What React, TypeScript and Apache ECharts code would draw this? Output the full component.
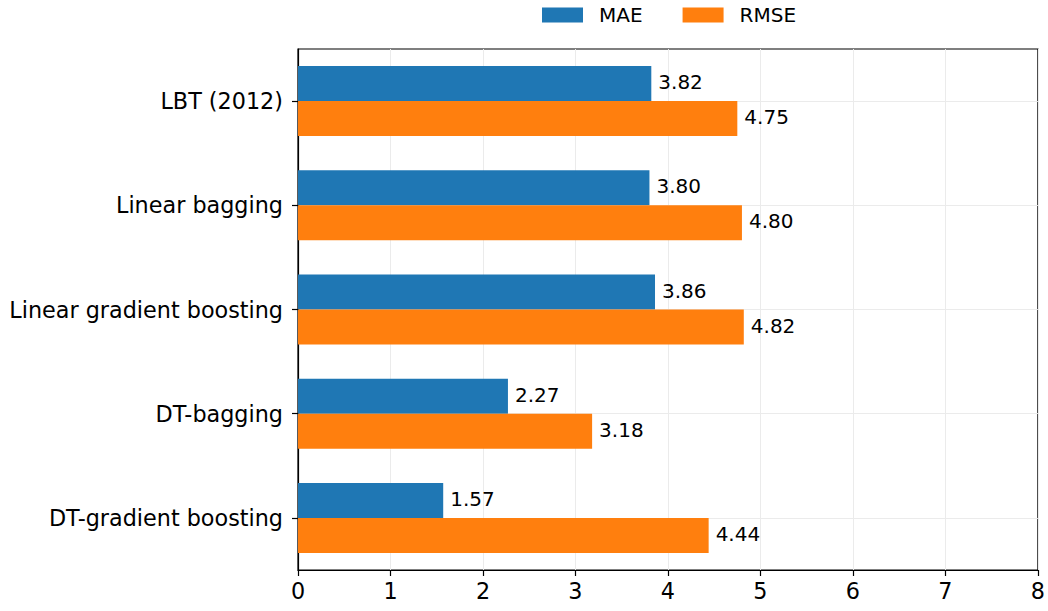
import React, { useEffect, useRef } from "react";
import * as echarts from "echarts";

const categories = [
  "LBT (2012)",
  "Linear bagging",
  "Linear gradient boosting",
  "DT-bagging",
  "DT-gradient boosting",
];
const maeValues = [3.82, 3.8, 3.86, 2.27, 1.57];
const rmseValues = [4.75, 4.8, 4.82, 3.18, 4.44];
const xTicks = { min: 0, max: 8, interval: 1 };

const FONT = "DejaVu Sans";

export default function App() {
  const ref = useRef<HTMLDivElement>(null);
  useEffect(() => {
    if (!ref.current) return;
    const chart = echarts.init(ref.current, null, { renderer: "svg" });
    const gridHelper = Array.from({ length: categories.length * 2 + 1 }, () => "");
    const labelCfg = {
      show: true,
      position: "right",
      distance: 7,
      offset: [0, -1.5],
      color: "#000",
      fontSize: 20,
      fontFamily: FONT,
      formatter: (p: any) => Number(p.value).toFixed(2),
    };
    chart.setOption({
      animation: false,
      textStyle: { fontFamily: FONT },
      legend: {
        left: 542,
        top: 5,
        padding: 0,
        itemWidth: 41,
        itemHeight: 15,
        itemGap: 40,
        icon: "rect",
        textStyle: { fontSize: 20, color: "#000", fontFamily: FONT, padding: [0, 0, 0, 11] },
        data: ["MAE", "RMSE"],
      },
      grid: {
        left: 298,
        right: 8.5,
        top: 49,
        bottom: 41,
        show: true,
        borderColor: "#000",
        borderWidth: 1.2,
        backgroundColor: "transparent",
      },
      xAxis: {
        type: "value",
        min: xTicks.min,
        max: xTicks.max,
        interval: xTicks.interval,
        axisLine: { show: true, lineStyle: { color: "#000", width: 1.2 } },
        axisTick: { show: true, length: 6, lineStyle: { color: "#000", width: 1.2 } },
        axisLabel: { color: "#000", fontSize: 22.3, fontFamily: FONT, margin: 10 },
        splitLine: { show: true, lineStyle: { color: "#ebebeb", width: 1 } },
      },
      yAxis: [
        {
          type: "category",
          data: categories,
          inverse: true,
          axisLine: { show: true, lineStyle: { color: "#000", width: 1.2 } },
          axisTick: { show: true, alignWithLabel: true, length: 6, lineStyle: { color: "#000", width: 1.2 } },
          axisLabel: { color: "#000", fontSize: 22.3, fontFamily: FONT, margin: 15 },
          splitLine: { show: false },
        },
        {
          type: "category",
          data: gridHelper,
          boundaryGap: false,
          position: "right",
          axisLine: { show: false },
          axisTick: { show: false },
          axisLabel: { show: false },
          splitLine: {
            show: true,
            interval: (i: number) => i % 2 === 1,
            lineStyle: { color: "#ebebeb", width: 1 },
          },
        },
      ],
      series: [
        {
          name: "MAE",
          type: "bar",
          data: maeValues,
          barWidth: 35,
          barGap: "0%",
          itemStyle: { color: "#1f77b4" },
          label: labelCfg,
        },
        {
          name: "RMSE",
          type: "bar",
          data: rmseValues,
          barWidth: 35,
          barGap: "0%",
          itemStyle: { color: "#ff7f0e" },
          label: labelCfg,
        },
      ],
    });
    return () => chart.dispose();
  }, []);
  return (
    <div
      ref={ref}
      style={{ position: "fixed", left: 0, top: 0, width: 1048, height: 611, background: "#fff" }}
    />
  );
}
